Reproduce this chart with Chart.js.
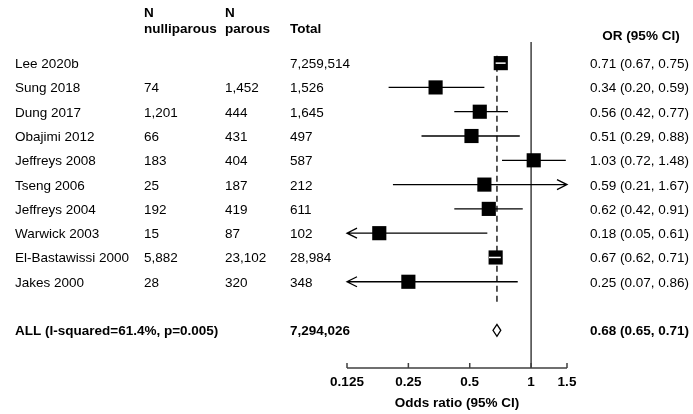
<!DOCTYPE html>
<html>
<head>
<meta charset="utf-8">
<script src="https://cdn.jsdelivr.net/npm/chart.js@4"></script>
<style>
  html, body { margin: 0; padding: 0; background: #fff; }
  #wrap { width: 693px; height: 414px; position: relative; }
</style>
</head>
<body>
<div id="wrap"><canvas id="forestChart"></canvas></div>
<script>
// study data
const studies = ["Lee 2020b", "Sung 2018", "Dung 2017", "Obajimi 2012", "Jeffreys 2008",
  "Tseng 2006", "Jeffreys 2004", "Warwick 2003", "El-Bastawissi 2000", "Jakes 2000"];
const nNulliparous = ["", "74", "1,201", "66", "183", "25", "192", "15", "5,882", "28"];
const nParous = ["", "1,452", "444", "431", "404", "187", "419", "87", "23,102", "320"];
const totals = ["7,259,514", "1,526", "1,645", "497", "587", "212", "611", "102", "28,984", "348"];
const oddsRatio = [0.71, 0.34, 0.56, 0.51, 1.03, 0.59, 0.62, 0.18, 0.67, 0.25];
const ciLow = [0.67, 0.20, 0.42, 0.29, 0.72, 0.21, 0.42, 0.05, 0.62, 0.07];
const ciHigh = [0.75, 0.59, 0.77, 0.88, 1.48, 1.67, 0.91, 0.61, 0.71, 0.86];

// pooled estimate
const pooledLabel = "ALL (I-squared=61.4%, p=0.005)";
const pooledTotal = "7,294,026";
const pooled = [0.68, 0.65, 0.71]; // OR, low, high

const xTicks = [0.125, 0.25, 0.5, 1, 1.5];

const FONT = "'Liberation Sans', Arial, sans-serif";
const FS = 13.5;
const pooledRow = studies.length + 1;

function fmt(v) { return v.toFixed(2); }

const forestPlugin = {
  id: "forest",
  beforeDatasetsDraw(chart) {
    const { ctx, scales: { x, y }, chartArea } = chart;
    const xmin = x.min, xmax = x.max;
    ctx.save();
    // line of no effect
    ctx.strokeStyle = "#404040";
    ctx.lineWidth = 1.5;
    ctx.beginPath();
    ctx.moveTo(x.getPixelForValue(1), chartArea.top);
    ctx.lineTo(x.getPixelForValue(1), chartArea.bottom);
    ctx.stroke();
    // pooled estimate line
    ctx.strokeStyle = "#000";
    ctx.lineWidth = 1.3;
    ctx.setLineDash([6, 4]);
    ctx.beginPath();
    ctx.moveTo(x.getPixelForValue(pooled[0]), y.getPixelForValue(-0.3));
    ctx.lineTo(x.getPixelForValue(pooled[0]), y.getPixelForValue(9.9));
    ctx.stroke();
    ctx.setLineDash([]);
    // CI lines
    ctx.lineWidth = 1.3;
    studies.forEach((s, i) => {
      const yy = y.getPixelForValue(i);
      const lo = Math.max(ciLow[i], xmin), hi = Math.min(ciHigh[i], xmax);
      const x1 = x.getPixelForValue(lo), x2 = x.getPixelForValue(hi);
      ctx.beginPath();
      ctx.moveTo(x1, yy);
      ctx.lineTo(x2, yy);
      if (ciLow[i] < xmin) {
        ctx.moveTo(x1 + 10, yy - 5); ctx.lineTo(x1, yy); ctx.lineTo(x1 + 10, yy + 5);
      }
      if (ciHigh[i] > xmax) {
        ctx.moveTo(x2 - 10, yy - 5); ctx.lineTo(x2, yy); ctx.lineTo(x2 - 10, yy + 5);
      }
      ctx.stroke();
    });
    ctx.restore();
  },
  afterDatasetsDraw(chart) {
    const { ctx, scales: { x, y } } = chart;
    const meta = chart.getDatasetMeta(0);
    ctx.save();
    // CI inside the box shows as white line
    ctx.strokeStyle = "#fff";
    ctx.lineWidth = 1.5;
    studies.forEach((s, i) => {
      const pt = meta.data[i];
      const half = pt.options.radius * Math.SQRT1_2;
      const x1 = x.getPixelForValue(ciLow[i]), x2 = x.getPixelForValue(ciHigh[i]);
      if (x1 > pt.x - half && x2 < pt.x + half) {
        ctx.beginPath();
        ctx.moveTo(x1, pt.y);
        ctx.lineTo(x2, pt.y);
        ctx.stroke();
      }
    });
    // pooled diamond
    const yy = y.getPixelForValue(pooledRow);
    const xc = x.getPixelForValue(pooled[0]);
    ctx.strokeStyle = "#000";
    ctx.lineWidth = 1.3;
    ctx.beginPath();
    ctx.moveTo(x.getPixelForValue(pooled[1]), yy);
    ctx.lineTo(xc, yy - 6);
    ctx.lineTo(x.getPixelForValue(pooled[2]), yy);
    ctx.lineTo(xc, yy + 6);
    ctx.closePath();
    ctx.stroke();
    ctx.restore();
  },
  afterDraw(chart) {
    const { ctx, scales: { x, y }, chartArea } = chart;
    ctx.save();
    // x axis with inward ticks
    ctx.strokeStyle = "#404040";
    ctx.lineWidth = 1.5;
    ctx.beginPath();
    ctx.moveTo(chartArea.left, chartArea.bottom);
    ctx.lineTo(chartArea.right, chartArea.bottom);
    xTicks.forEach(v => {
      const px = x.getPixelForValue(v);
      ctx.moveTo(px, chartArea.bottom);
      ctx.lineTo(px, chartArea.bottom - 5);
    });
    ctx.stroke();

    // text columns
    ctx.fillStyle = "#000";
    ctx.textBaseline = "alphabetic";
    ctx.textAlign = "left";
    ctx.font = "bold " + FS + "px " + FONT;
    ctx.fillText("N", 144, 17);
    ctx.fillText("nulliparous", 144, 33);
    ctx.fillText("N", 225, 17);
    ctx.fillText("parous", 225, 33);
    ctx.fillText("Total", 290, 33);
    ctx.textAlign = "center";
    ctx.fillText("OR (95% CI)", 641, 40);
    ctx.textAlign = "left";

    ctx.font = FS + "px " + FONT;
    studies.forEach((s, i) => {
      const yy = y.getPixelForValue(i) + 5;
      ctx.fillText(s, 15, yy);
      ctx.fillText(nNulliparous[i], 144, yy);
      ctx.fillText(nParous[i], 225, yy);
      ctx.fillText(totals[i], 290, yy);
      ctx.fillText(fmt(oddsRatio[i]) + " (" + fmt(ciLow[i]) + ", " + fmt(ciHigh[i]) + ")", 590, yy);
    });
    const yp = y.getPixelForValue(pooledRow) + 5;
    ctx.font = "bold " + FS + "px " + FONT;
    ctx.fillText(pooledLabel, 15, yp);
    ctx.fillText(pooledTotal, 290, yp);
    ctx.fillText(fmt(pooled[0]) + " (" + fmt(pooled[1]) + ", " + fmt(pooled[2]) + ")", 590, yp);
    ctx.restore();
  }
};

const ctx = document.getElementById("forestChart");
new Chart(ctx, {
  type: "scatter",
  data: {
    datasets: [
      {
        label: "OR",
        data: studies.map((s, i) => ({ x: oddsRatio[i], y: i })),
        pointStyle: "rect",
        pointRadius: 10,
        pointHoverRadius: 10,
        backgroundColor: "#000",
        borderWidth: 0,
      },
    ],
  },
  options: {
    responsive: true,
    maintainAspectRatio: false,
    animation: false,
    layout: { padding: { left: 347, right: 126, top: 42, bottom: 0 } },
    plugins: {
      legend: { display: false },
      tooltip: { enabled: false },
    },
    scales: {
      x: {
        type: "logarithmic",
        min: 0.125,
        max: 1.5,
        afterBuildTicks: (scale) => {
          scale.ticks = xTicks.map(v => ({ value: v }));
        },
        afterFit: (scale) => { scale.height = 46; },
        grid: { display: false },
        border: { display: false },
        ticks: {
          autoSkip: false,
          maxRotation: 0,
          padding: -2,
          color: "#000",
          font: { family: FONT, size: FS, weight: "bold" },
          callback: (v) => String(v),
        },
        title: {
          display: true,
          text: "Odds ratio (95% CI)",
          color: "#000",
          font: { family: FONT, size: FS, weight: "bold" },
          padding: { top: 0, bottom: 3 },
        },
      },
      y: {
        type: "linear",
        reverse: true,
        min: -0.87,
        max: 12.55,
        display: false,
      },
    },
  },
  plugins: [forestPlugin],
});
</script>
</body>
</html>
